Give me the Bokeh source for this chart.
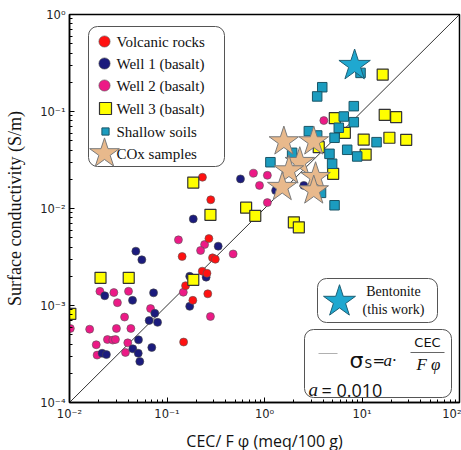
from bokeh.plotting import figure
from bokeh.models import FixedTicker, Label, Legend, LegendItem, BoxAnnotation
from bokeh.embed import file_html
from bokeh.resources import INLINE

# ---------------- data ----------------
volc_x = [0.269, 0.143, 0.293, 0.313, 0.23, 0.257, 0.155, 0.262, 0.184, 0.148, 0.231, 0.281]
volc_y = [4.9e-3, 3.2e-3, 3.1e-3, 3.0e-3, 2.26e-3, 2.15e-3, 1.6e-3, 1.32e-3, 1.13e-3, 4.2e-4, 2.1e-2, 1.23e-2]

well1_x = [0.0479, 0.0552, 0.023, 0.0443, 0.0728, 0.075, 0.0656, 0.08, 0.051, 0.0446, 0.0507, 0.0526,
           0.0698, 0.0216, 0.0239, 0.567, 0.186, 0.335, 0.171, 0.252, 0.171, 2.53, 1.3]
well1_y = [3.63e-3, 2.96e-3, 1.26e-3, 1.13e-3, 1.35e-3, 8.3e-4, 7.0e-4, 6.7e-4, 4.43e-4, 3.58e-4, 3.22e-4, 2.65e-4,
           3.69e-4, 3.22e-4, 3.12e-4, 2.02e-2, 7.8e-3, 4.09e-3, 2.0e-3, 1.96e-3, 9.8e-4, 1.73e-2, 1.53e-2]

well2_x = [0.0102, 0.0161, 0.0205, 0.0285, 0.031, 0.0403, 0.0367, 0.0303, 0.0426, 0.0245, 0.0278, 0.0296,
           0.0188, 0.0192, 0.0396, 0.0375, 0.0678, 0.131, 0.243, 0.221, 0.147, 0.279, 0.477, 0.77, 0.889,
           1.07, 1.07, 4.06]
well2_y = [5.8e-4, 5.7e-4, 1.4e-3, 1.36e-3, 1.07e-3, 1.4e-3, 7.6e-4, 5.8e-4, 5.8e-4, 4.46e-4, 4.4e-4, 4.46e-4,
           3.94e-4, 3.08e-4, 4.12e-4, 3.28e-4, 9.3e-4, 4.75e-3, 4.25e-3, 3.69e-3, 1.37e-3, 7.7e-4, 3.4e-3,
           2.31e-2, 1.73e-2, 2.2e-2, 1.15e-2, 8.07e-2]

well3_x = [0.0102, 0.0208, 0.0405, 0.186, 0.186, 0.279, 0.648, 0.804, 2.0, 2.25, 16.3, 5.26, 6.67, 10.4,
           10.9, 5.06, 3.6, 17.1, 22.4, 19.1, 28.4]
well3_y = [8.2e-4, 1.93e-3, 1.93e-3, 1.84e-3, 1.85e-2, 8.6e-3, 1.02e-2, 8.4e-3, 7.2e-3, 6.4e-3, 0.24, 0.0853,
           0.0603, 0.0514, 0.036, 0.0228, 0.0429, 0.0925, 0.0874, 0.0536, 0.051]

soil_x = [9.66, 3.91, 3.47, 8.24, 6.5, 8.24, 5.78, 5.23, 2.85, 3.47, 7.05, 8.93, 14.1, 4.64, 4.94, 1.15,
          1.92, 3.8, 5.23]
soil_y = [0.25, 0.178, 0.143, 0.1135, 0.0888, 0.0776, 0.068, 0.0536, 0.0627, 0.0566, 0.0403, 0.0344, 0.0483,
          0.0366, 0.0289, 0.030, 0.0375, 0.0145, 0.0108]

cox_x = [1.58, 3.2, 2.3, 1.78, 3.34, 1.52, 3.2]
cox_y = [0.049, 0.049, 0.030, 0.0246, 0.021, 0.0166, 0.0153]

bent_x = [8.4]
bent_y = [0.298]

a_coef = 0.010
fit_x = [0.01, 100.0]
fit_y = [a_coef * v for v in fit_x]

x_ticks = [0.01, 0.1, 1.0, 10.0, 100.0]
x_tick_labels = ["10⁻²", "10⁻¹", "10⁰", "10¹", "10²"]
y_ticks = [0.0001, 0.001, 0.01, 0.1, 1.0]
y_tick_labels = ["10⁻⁴", "10⁻³", "10⁻²", "10⁻¹", "10⁰"]

legend_labels = ["Volcanic rocks", "Well 1 (basalt)", "Well 2 (basalt)", "Well 3 (basalt)",
                 "Shallow soils", "COx samples"]

# ---------------- figure ----------------
FL, FT, FW, FH = 69, 14, 390, 388
FB = FT + FH

def sx(px):
    return px - FL

def sy(py):
    return FB - py

p = figure(x_axis_type="log", y_axis_type="log", x_range=(0.01, 100), y_range=(1e-4, 1),
           frame_width=FW, frame_height=FH, min_border_left=FL, min_border_right=2,
           min_border_top=FT, min_border_bottom=48, output_backend="svg", toolbar_location=None)
p.background_fill_color = "white"
p.border_fill_color = "white"
p.xgrid.visible = False
p.ygrid.visible = False
p.outline_line_color = "black"
p.outline_line_width = 1.5

minor = [m * 10.0 ** e for e in range(-5, 3) for m in range(2, 10)]
p.xaxis.ticker = FixedTicker(ticks=x_ticks, minor_ticks=minor)
p.yaxis.ticker = FixedTicker(ticks=y_ticks, minor_ticks=minor)
p.xaxis.major_label_overrides = dict(zip(x_ticks, x_tick_labels))
p.yaxis.major_label_overrides = dict(zip(y_ticks, y_tick_labels))

for ax in (p.xaxis, p.yaxis):
    ax.axis_line_color = "black"
    ax.axis_line_width = 1.5
    ax.major_tick_in = 5
    ax.major_tick_out = 0
    ax.minor_tick_in = 3
    ax.minor_tick_out = 0
    ax.major_tick_line_color = "black"
    ax.minor_tick_line_color = "black"
    ax.major_label_text_font = "DejaVu Sans"
    ax.major_label_text_font_size = "11.5px"
    ax.major_label_text_color = "#222"
    ax.major_label_standoff = 4
    ax.axis_label_text_font_style = "normal"
    ax.axis_label_text_color = "#111"

p.xaxis.axis_label = "CEC/ F φ (meq/100 g)"
p.xaxis.axis_label_text_font = "Open Sans"
p.xaxis.axis_label_text_font_size = "16px"
p.xaxis.axis_label_standoff = 6
p.yaxis.axis_label = "Surface conductivity (S/m)"
p.yaxis.axis_label_text_font = "Liberation Serif"
p.yaxis.axis_label_text_font_size = "18px"
p.yaxis.axis_label_standoff = 12

# fit line
p.line(fit_x, fit_y, line_color="#333333", line_width=1)

# data
r_well2 = p.scatter(well2_x, well2_y, marker="circle", size=8, fill_color="#ec1a86",
                    line_color="#555555", line_width=0.6)
r_well1 = p.scatter(well1_x, well1_y, marker="circle", size=8, fill_color="#1b1b7d",
                    line_color="#444444", line_width=0.6)
r_volc = p.scatter(volc_x, volc_y, marker="circle", size=8, fill_color="#ff1111",
                   line_color="#555555", line_width=0.6)
r_well3 = p.scatter(well3_x, well3_y, marker="square", size=11, fill_color="#ffff00",
                    line_color="#333333", line_width=1.2)
r_soil = p.scatter(soil_x, soil_y, marker="square", size=9.5, fill_color="#1b9cbf",
                   line_color="#1a5566", line_width=1)
r_cox = p.scatter(cox_x, cox_y, marker="star", size=31, fill_color="#e8b98c",
                  line_color="#7a7a7a", line_width=1)
r_bent = p.scatter(bent_x, bent_y, marker="star", size=33, fill_color="#1fa8d0",
                   line_color="#1d5f75", line_width=1)

# ---------------- annotation boxes ----------------
def box(l, r, t, b, radius=9, color="white", lc="#555555"):
    return BoxAnnotation(left=sx(l), right=sx(r), top=sy(t), bottom=sy(b),
                         left_units="screen", right_units="screen",
                         top_units="screen", bottom_units="screen",
                         fill_color=color, fill_alpha=1, line_color=lc, line_width=1,
                         line_alpha=1 if lc else 0, border_radius=radius)

p.add_layout(box(88, 224, 26, 166))
p.add_layout(box(317, 437, 278, 322))
p.add_layout(box(304, 451, 329, 397))
# legend line sample + fraction bar
p.add_layout(box(318, 337, 352.5, 353.5, radius=0, color="#b0b0b0", lc=None))
p.add_layout(box(410, 444, 351.5, 352.5, radius=0, color="#666666", lc=None))

# ---------------- legend keys ----------------
def key(renderer, cx, cy, G):
    leg = Legend(items=[LegendItem(label="", renderers=[renderer])],
                 location=(sx(cx - G / 2), sy(cy + G / 2)),
                 glyph_width=G, glyph_height=G, label_height=G, label_width=0,
                 padding=0, margin=0, spacing=0, label_standoff=0,
                 background_fill_alpha=0, border_line_alpha=0)
    p.add_layout(leg)

key(r_volc, 104, 41, 28)
key(r_well1, 104, 63, 28)
key(r_well2, 104, 85, 28)
key(r_well3, 105, 108, 30)
key(r_soil, 105, 131, 18)
key(r_cox, 104, 153, 78)
key(r_bent, 339, 301, 84)

label_y = [41, 63, 85, 108, 131, 153]
for txt, yy in zip(legend_labels, label_y):
    p.add_layout(Label(x=sx(116), y=sy(yy), x_units="screen", y_units="screen", text=txt,
                       text_font="Liberation Serif", text_font_size="15px",
                       text_baseline="middle", text_align="left", text_color="#111"))

for txt, yy in zip(["Bentonite", "(this work)"], [291, 309]):
    p.add_layout(Label(x=sx(393), y=sy(yy), x_units="screen", y_units="screen", text=txt,
                       text_font="Liberation Serif", text_font_size="14px",
                       text_baseline="middle", text_align="center", text_color="#111"))

def lab(txt, x, y, font, size, style="normal", align="left", baseline="alphabetic"):
    p.add_layout(Label(x=sx(x), y=sy(y), x_units="screen", y_units="screen", text=txt,
                       text_font=font, text_font_size=size, text_font_style=style,
                       text_baseline=baseline, text_align=align, text_color="#111"))

lab("σ", 349, 360, "DejaVu Sans", "22px")
lab("S", 364, 363, "DejaVu Sans", "12px")
lab("=", 372, 360, "DejaVu Sans", "15px")
lab("a·", 383, 360, "Liberation Serif", "17px", style="italic")
lab("CEC", 427, 349, "DejaVu Sans", "13px", align="center", baseline="bottom")
lab("F φ", 428, 354, "Liberation Serif", "17px", style="italic", align="center", baseline="top")
lab("a", 308, 389, "Liberation Serif", "19px", style="italic")
lab("= 0.010", 321, 389, "Open Sans", "18px")

open("out.html", "w").write(file_html(p, INLINE))
